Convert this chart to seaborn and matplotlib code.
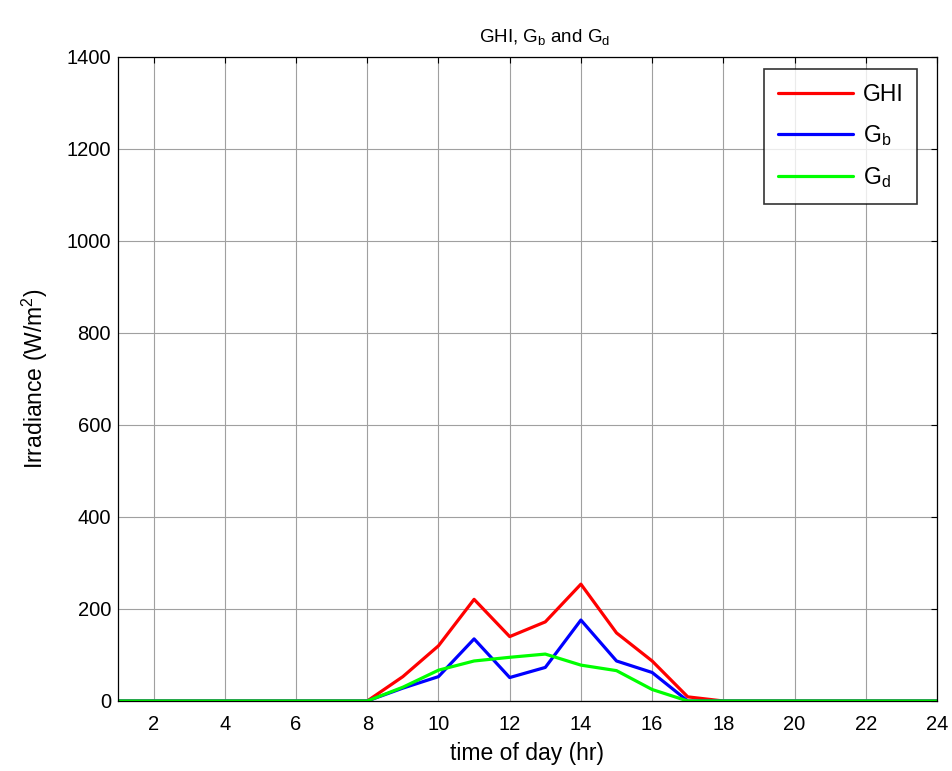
import numpy as np
import pandas as pd
import matplotlib
matplotlib.use("Agg")
import matplotlib.pyplot as plt
import seaborn as sns

hours = list(range(1, 25))
ghi = [0, 0, 0, 0, 0, 0, 0, 0, 53, 120, 221, 140, 172, 254, 148, 87, 9, 0, 0, 0, 0, 0, 0, 0]
gb = [0, 0, 0, 0, 0, 0, 0, 0, 28, 53, 135, 51, 73, 176, 87, 62, 0, 0, 0, 0, 0, 0, 0, 0]
gd = [0, 0, 0, 0, 0, 0, 0, 0, 30, 67, 87, 95, 102, 78, 66, 25, 0, 0, 0, 0, 0, 0, 0, 0]
series_names = ["GHI", "$\\mathregular{G_b}$", "$\\mathregular{G_d}$"]
colors = ["#ff0000", "#0000ff", "#00ff00"]
xticks = list(range(2, 25, 2))
yticks = list(range(0, 1401, 200))

df = pd.DataFrame({
    "hour": hours * 3,
    "value": ghi + gb + gd,
    "series": [series_names[0]] * 24 + [series_names[1]] * 24 + [series_names[2]] * 24,
})

sns.set_style("white")
plt.rcParams["font.family"] = ["Liberation Sans", "DejaVu Sans"]
plt.rcParams["mathtext.fontset"] = "custom"
plt.rcParams["mathtext.rm"] = "Liberation Sans"
plt.rcParams["mathtext.it"] = "Liberation Sans"
plt.rcParams["text.color"] = "black"
plt.rcParams["axes.labelcolor"] = "black"

fig = plt.figure(figsize=(9.53, 7.71), dpi=100)
ax = fig.add_axes([118 / 953, 70 / 771, (937 - 118) / 953, (701 - 57) / 771])

sns.lineplot(data=df, x="hour", y="value", hue="series", palette=dict(zip(series_names, colors)),
             hue_order=series_names, linewidth=2.3, ax=ax, legend=True)

ax.set_xlim(1, 24)
ax.set_ylim(0, 1400)
ax.set_xticks(xticks)
ax.set_yticks(yticks)
ax.tick_params(direction="in", top=True, right=True, labelsize=14.5, length=4, width=0.8,
               colors="black")
ax.tick_params(axis="y", pad=5)
ax.tick_params(axis="x", pad=10)
ax.grid(True, color="#a0a0a0", linewidth=0.8, linestyle="-")
for s in ax.spines.values():
    s.set_color("black")
    s.set_linewidth(0.9)
ax.set_xlabel("time of day (hr)", fontsize=16.5, labelpad=6)
ax.set_ylabel("Irradiance (W/m$^\\mathregular{2}$)", fontsize=16.5, labelpad=12)
ax.set_title("GHI, $\\mathregular{G_b}$ and $\\mathregular{G_d}$", fontsize=13.5, pad=11,
             x=0.521, color="black")

leg = ax.legend(loc="upper right", bbox_to_anchor=(0.9756, 0.9814), borderaxespad=0,
                fontsize=16.5, frameon=True,
                fancybox=False, edgecolor="black", handlelength=3.3, labelspacing=0.75,
                borderpad=0.6, handletextpad=0.4)
leg.get_frame().set_linewidth(1.2)
leg.set_title(None)
for t in leg.get_texts():
    t.set_color("black")

fig.savefig("out.png", dpi=100, facecolor="white")
